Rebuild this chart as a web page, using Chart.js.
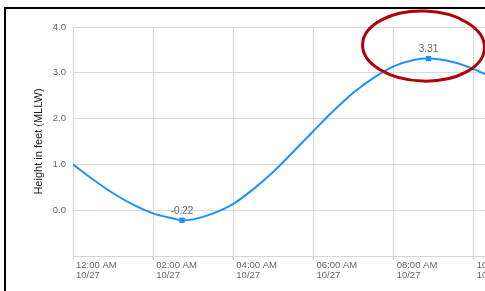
<!DOCTYPE html>
<html>
<head>
<meta charset="utf-8">
<script src="https://cdn.jsdelivr.net/npm/chart.js@4.4.1/dist/chart.umd.min.js"></script>
<style>
  html, body { margin: 0; padding: 0; background: #fff; overflow: hidden; width: 485px; height: 291px; }
  #wrap { position: relative; width: 600px; height: 291px; }
  #frame { position: absolute; left: 4px; top: 7px; width: 700px; height: 300px;
           border-top: 2px solid #000; border-left: 2px solid #000; pointer-events: none; }
</style>
</head>
<body>
<div id="wrap">
  <canvas id="tideChart" width="600" height="291"></canvas>
  <div id="frame"></div>
</div>
<script>
// Giờ trong ngày 10/27 (tính từ 0:00) và chiều cao mực nước (feet, MLLW)
const hours   = [0, 0.5, 1, 1.5, 2, 2.5, 2.72, 3, 3.5, 4, 4.5, 5, 5.5, 6, 6.5, 7, 7.5, 8, 8.5, 8.87, 9.5, 10, 10.5];
const heights = [1.00, 0.67, 0.37, 0.12, -0.07, -0.18, -0.22, -0.20, -0.07, 0.14, 0.46, 0.84, 1.28, 1.73, 2.17, 2.57, 2.89, 3.14, 3.28, 3.31, 3.23, 3.08, 2.88];

// Các điểm nước ròng / nước lớn có đánh dấu và nhãn
const markedHours = [2.72, 8.87];

// Nhãn trục
const xTickLabels = ['12:00 AM', '02:00 AM', '04:00 AM', '06:00 AM', '08:00 AM', '10:00 AM', '12:00 PM'];
const dateLabel = '10/27';
const yTickLabels = ['', '0.0', '1.0', '2.0', '3.0', '4.0'];

const FONT = '"Liberation Sans", Arial, sans-serif';
const isMarked = i => markedHours.includes(hours[i]);

// Vẽ nhãn giá trị trên điểm cao / thấp
const hiLoLabels = {
  id: 'hiLoLabels',
  afterDatasetsDraw(chart) {
    const meta = chart.getDatasetMeta(0);
    const c = chart.ctx;
    c.save();
    c.font = '10px ' + FONT;
    c.fillStyle = '#666';
    c.textAlign = 'center';
    c.textBaseline = 'bottom';
    meta.data.forEach((pt, i) => {
      if (isMarked(i)) c.fillText(heights[i].toFixed(2), pt.x, pt.y - 4);
    });
    c.restore();
  }
};

// Vòng elip đỏ khoanh quanh đỉnh triều
const highlightRing = {
  id: 'highlightRing',
  afterDraw(chart) {
    const meta = chart.getDatasetMeta(0);
    const top = heights.indexOf(Math.max(...heights));
    const pt = meta.data[top];
    const c = chart.ctx;
    c.save();
    c.strokeStyle = '#b0000a';
    c.lineWidth = 3;
    c.beginPath();
    c.ellipse(pt.x - 5, pt.y - 12.5, 61, 35, 0.03, 0, Math.PI * 2);
    c.stroke();
    c.restore();
  }
};

const ctx = document.getElementById('tideChart').getContext('2d');
const tideChart = new Chart(ctx, {
  type: 'line',
  data: {
    datasets: [{
      data: hours.map((h, i) => ({ x: h, y: heights[i] })),
      borderColor: '#1e90ff',
      backgroundColor: '#1e90ff',
      borderWidth: 2,
      cubicInterpolationMode: 'monotone',
      fill: false,
      pointStyle: 'rect',
      pointRadius: c => isMarked(c.dataIndex) ? 3.8 : 0,
      pointBorderWidth: 0
    }]
  },
  options: {
    responsive: false,
    animation: false,
    layout: { padding: { top: 27, right: 46, bottom: 0, left: 0 } },
    plugins: { legend: { display: false }, tooltip: { enabled: false } },
    scales: {
      x: {
        type: 'linear',
        min: 0,
        max: 12,
        afterFit(s) { s.height = 35; },
        ticks: {
          stepSize: 2,
          autoSkip: false,
          maxRotation: 0,
          align: 'start',
          labelOffset: 3,
          padding: 0,
          color: '#666',
          font: { family: FONT, size: 9.5, lineHeight: 1.1 },
          callback: (v, i) => [xTickLabels[i], dateLabel]
        },
        grid: { color: '#d9d9d9', tickLength: 4, drawTicks: true },
        border: { display: true, color: '#ccd6eb' }
      },
      y: {
        min: -1,
        max: 4,
        afterFit(s) { s.width = 73; },
        ticks: {
          stepSize: 1,
          padding: 7,
          color: '#666',
          font: { family: FONT, size: 9.5 },
          callback: (v, i) => yTickLabels[i]
        },
        grid: { color: '#d9d9d9', drawTicks: false },
        border: { display: false },
        title: {
          display: true,
          text: 'Height in feet (MLLW)',
          color: '#222',
          font: { family: FONT, size: 11 },
          padding: { top: 32, bottom: 0 }
        }
      }
    }
  },
  plugins: [hiLoLabels, highlightRing]
});
</script>
</body>
</html>
